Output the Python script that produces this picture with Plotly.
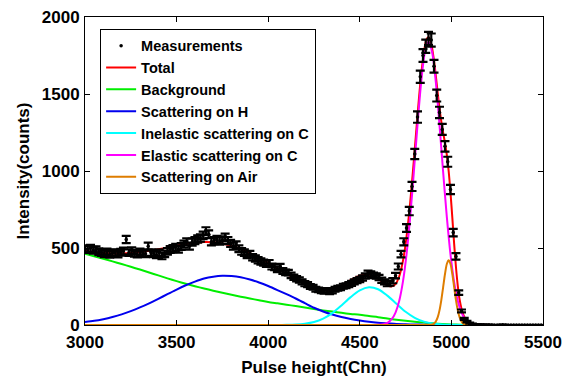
import numpy as np
import plotly.graph_objects as go

# ---------------- data ----------------
meas_x = list(range(3000, 5500, 15))
meas_y = [
    495, 490, 498, 485, 488, 476, 470, 462, 475, 458,
    466, 470, 460, 472, 480, 555, 470, 482, 466, 460,
    475, 468, 462, 512, 470, 462, 455, 470, 448, 462,
    478, 490, 496, 505, 492, 510, 525, 540, 512, 538,
    548, 558, 565, 582, 610, 590, 540, 548, 555, 545,
    552, 570, 548, 530, 512, 520, 495, 478, 470, 455,
    460, 440, 432, 420, 412, 405, 398, 402, 380, 375,
    362, 378, 350, 342, 340, 322, 310, 300, 292, 280,
    268, 262, 250, 245, 232, 228, 222, 218, 225, 215,
    220, 232, 238, 242, 252, 255, 262, 270, 280, 288,
    295, 305, 318, 335, 330, 322, 318, 308, 290, 280,
    268, 272, 288, 320, 380, 460, 540, 630, 740, 900,
    1110, 1350, 1612, 1750, 1810, 1860, 1850, 1680, 1490, 1380,
    1270, 1160, 1060, 880, 600, 445, 210, 91, 40, 22,
    12, 6, 3, 2, 1, 1, 0, 1, 0, 0,
    0, 0, 1, 0, 0, 0, 0, 0, 0, 0,
    0, 0, 0, 0, 0, 0, 0,
]
meas_err = [float(np.sqrt(v)) for v in meas_y]

total_x = list(range(3000, 4601, 50)) + list(range(4615, 4856, 20)) + \
    list(range(4865, 5106, 10)) + [5125, 5155, 5200, 5300, 5400, 5500]
total_y = [
    483, 473, 468, 465, 465, 468, 474, 482, 492, 503,
    515, 526, 534, 539, 537, 529, 514, 494, 467, 437,
    403, 368, 333, 298, 264, 235, 224, 232, 258, 292,
    320, 324, 299,
    287, 269, 255, 251, 266, 315, 413, 573, 795, 1067, 1361, 1626, 1809,
    1857, 1870, 1849, 1796, 1716, 1617, 1510, 1408, 1321, 1248,
    1183, 1105, 1000, 860, 697, 527, 375, 253, 164, 106,
    67, 43, 28, 18, 12,
    5, 1, 0, 0, 0, 0,
]

bg_x = list(range(3000, 5151, 50)) + [5500]
bg_y = [
    463, 446, 430, 413, 396, 378, 360, 341, 322, 303,
    285, 268, 252, 237, 223, 209, 196, 184, 172, 161,
    150, 141, 132, 123, 114, 104, 95, 87, 79, 72,
    66, 58, 51, 42, 34, 27, 21, 16, 11, 7,
    4, 2, 1, 0, 0,
]

h_x = list(range(3000, 4951, 50)) + [5500]
h_y = [
    20, 27, 38, 52, 69, 90, 114, 141, 170, 200,
    230, 258, 282, 302, 314, 320, 318, 310, 295, 276,
    253, 227, 200, 172, 142, 112, 88, 68, 52, 39,
    29, 21, 15, 11, 7, 5, 3, 2, 1, 0, 0,
]

cin_x = [3000, 3500, 4000] + list(range(4050, 5051, 50)) + [5500]
cin_y = [
    0, 0, 0,
    0, 1, 3, 8, 19, 41, 77, 127, 181, 225, 245,
    232, 191, 138, 86, 47, 22, 9, 3, 1, 0,
    0,
]

cel_x = [3000, 4000, 4400, 4555, 4575] + list(range(4595, 5156, 20)) + [5200, 5500]
cel_y = [
    0, 0, 0, 0, 0,
    1, 3, 7, 17, 39, 81, 156, 278, 459, 702,
    992, 1300, 1577, 1770, 1840, 1770, 1577, 1300, 992, 702,
    459, 278, 156, 81, 39, 17, 7, 3, 1,
    0, 0,
]

air_x = [3000, 4000, 4600, 4800, 4865, 4875] + list(range(4885, 5096, 10)) + [5150, 5500]
air_y = [
    0, 0, 0, 0, 0, 0,
    1, 3, 9, 23, 49, 95, 162, 246, 331, 396,
    420, 396, 331, 246, 162, 95, 49, 23, 9, 3,
    1, 0,
    0, 0,
]

x_ticks = [3000, 3500, 4000, 4500, 5000, 5500]
y_ticks = [0, 500, 1000, 1500, 2000]

# ---------------- figure ----------------
FONT = "Liberation Sans, Arial, Helvetica, sans-serif"
fig = go.Figure()

curves = [
    ("Total", total_x, total_y, "#FF0000", 2),
    ("Background", bg_x, bg_y, "#00EE00", 3),
    ("Scattering on H", h_x, h_y, "#0000EE", 4),
    ("Inelastic scattering on C", cin_x, cin_y, "#00FFFF", 5),
    ("Elastic scattering on C", cel_x, cel_y, "#FF00FF", 6),
    ("Scattering on Air", air_x, air_y, "#DE7D00", 7),
]
for name, xs, ys, col, rank in curves:
    fig.add_trace(go.Scatter(
        x=xs, y=ys, mode="lines", name=name, legendrank=rank,
        line=dict(color=col, width=2, shape="spline", smoothing=0.8),
    ))

fig.add_trace(go.Scatter(
    x=meas_x, y=meas_y, mode="markers", name="Measurements", legendrank=1,
    marker=dict(color="black", size=3.5),
    error_y=dict(type="data", array=meas_err, visible=True,
                 color="black", thickness=2.2, width=4.5),
))

axis_common = dict(
    showline=True, linecolor="black", linewidth=1, mirror="ticks",
    ticks="inside", ticklen=5, tickwidth=1, tickcolor="black",
    showgrid=False, zeroline=False, automargin=False,
    tickfont=dict(family=FONT, size=17, color="black", weight="bold"),
)

fig.update_layout(
    width=563, height=377,
    margin=dict(l=85, r=20, t=17, b=52, autoexpand=False),
    paper_bgcolor="white", plot_bgcolor="white",
    font=dict(family=FONT, color="black", weight="bold"),
    xaxis=dict(range=[3000, 5500], tickvals=x_ticks, ticklabelstandoff=2,
               title=dict(text="Pulse height(Chn)", standoff=16,
                          font=dict(family=FONT, size=17, color="black", weight="bold")),
               **axis_common),
    yaxis=dict(range=[0, 2000], tickvals=y_ticks, ticklabelstandoff=1,
               title=dict(text="Intensity(counts)", standoff=7,
                          font=dict(family=FONT, size=17, color="black", weight="bold")),
               **axis_common),
    legend=dict(
        x=0.033, y=0.962, xanchor="left", yanchor="top",
        bgcolor="white", bordercolor="black", borderwidth=1,
        font=dict(family=FONT, size=14.5, color="black", weight="bold"),
        tracegroupgap=0, itemwidth=30,
    ),
    showlegend=True,
)

fig.write_html("out.html")
